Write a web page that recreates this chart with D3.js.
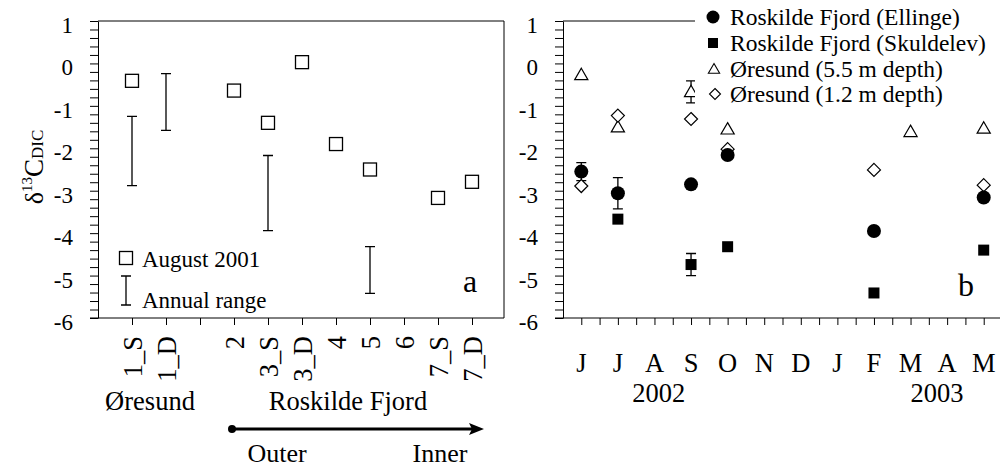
<!DOCTYPE html>
<html><head><meta charset="utf-8">
<script src="https://cdn.jsdelivr.net/npm/d3@7"></script>
<style>
body{margin:0;background:#fff}
svg text{font-family:"Liberation Serif","Times New Roman",serif;fill:#000}
</style>
</head><body>
<svg id="c" width="1000" height="469"></svg>
<script>
// ---- Panel a data ----
const stations = ["1_S","1_D","","2","3_S","3_D","4","5","6","7_S","7_D"];
const aug2001 = [-0.41,null,null,-0.64,-1.40,0.03,-1.90,-2.50,null,-3.17,-2.79];
const rangeLow = [-2.88,-1.58,null,null,-3.94,null,null,-5.42,null,null,null];
const rangeHigh = [-1.25,-0.24,null,null,-2.17,null,null,-4.32,null,null,null];
const groupLabels = ["Øresund","Roskilde Fjord"];
const gradientLabels = ["Outer","Inner"];
const legendA = ["August 2001","Annual range"];
// ---- Panel b data ----
const months = ["J","J","A","S","O","N","D","J","F","M","A","M"];
const yearLabels = ["2002","2003"];
const ellinge    = [-2.55,-3.06,null,-2.85,-2.16,null,null,null,-3.95,null,null,-3.16];
const ellingeErr = [0.21,0.37,0,0,0,0,0,0,0,0,0,0];
const skuldelev    = [null,-3.67,null,-4.74,-4.32,null,null,null,-5.41,null,null,-4.40];
const skuldelevErr = [0,0,0,0.26,0,0,0,0,0,0,0,0];
const oresund55    = [-0.27,-1.50,null,-0.67,-1.55,null,null,null,null,-1.61,null,-1.53];
const oresund55Err = [0,0,0,0.26,0,0,0,0,0,0,0,0];
const oresund12    = [-2.89,-1.23,null,-1.31,-2.02,null,null,null,-2.51,null,null,-2.87];
const legendB = ["Roskilde Fjord (Ellinge)","Roskilde Fjord (Skuldelev)","Øresund (5.5 m depth)","Øresund (1.2 m depth)"];
const yTicks = [1,0,-1,-2,-3,-4,-5,-6];

const svg = d3.select("#c");
const yTop = 21, yBot = 318;
const y = d3.scaleLinear().domain([-6,1]).range([yBot, yTop]);
const minor = d3.range(-6, 1.0001, 0.2).map(v => Math.round(v*10)/10);

function yAxis(g, x0){
  const ax = d3.axisLeft(y).tickValues(minor).tickSize(8).tickSizeOuter(0)
    .tickPadding(17).tickFormat(v => yTicks.includes(v) ? String(v) : "");
  g.attr("transform", `translate(${x0},0)`).call(ax);
  g.selectAll("text").style("font-size","23px").attr("dy","0.5em");
  g.selectAll("line,path").attr("stroke","#000").attr("stroke-width",1);
}

// ===== Panel a =====
const xa0 = 98, xa1 = 504;
const xa = d3.scaleLinear().domain([0, (xa1-xa0)/34]).range([xa0, xa1]);
const ga = svg.append("g");
ga.append("line").attr("x1",xa0).attr("x2",xa1).attr("y1",yTop).attr("y2",yTop).attr("stroke","#000");
ga.append("line").attr("x1",xa1).attr("x2",xa1).attr("y1",yTop).attr("y2",yBot).attr("stroke","#000");
const xaAxis = d3.axisBottom(xa).tickValues(d3.range(1, stations.length+1)).tickSize(7).tickSizeOuter(0)
  .tickFormat(i => stations[i-1]);
const gxa = ga.append("g").attr("transform",`translate(0,${yBot})`).call(xaAxis);
gxa.select(".domain").attr("d", `M${xa0-8},0H${xa1}`);
gxa.selectAll("line,path").attr("stroke","#000");
gxa.selectAll("text").style("font-size","26.5px")
  .attr("transform","rotate(-90)").attr("text-anchor","end")
  .attr("x",-18).attr("y",0).attr("dy","0.36em");
yAxis(ga.append("g"), xa0);

const cap = 5;
stations.forEach((s,i)=>{
  if(rangeLow[i]==null) return;
  const cx = xa(i+1);
  const p = d3.path();
  p.moveTo(cx, y(rangeHigh[i])); p.lineTo(cx, y(rangeLow[i]));
  p.moveTo(cx-cap, y(rangeHigh[i])); p.lineTo(cx+cap, y(rangeHigh[i]));
  p.moveTo(cx-cap, y(rangeLow[i])); p.lineTo(cx+cap, y(rangeLow[i]));
  ga.append("path").attr("d",p.toString()).attr("stroke","#000").attr("stroke-width",1.3).attr("fill","none");
});
const sq = 13;
ga.selectAll("rect.aug").data(aug2001.map((v,i)=>({v,i})).filter(d=>d.v!=null)).join("rect")
  .attr("x",d=>xa(d.i+1)-sq/2).attr("y",d=>y(d.v)-sq/2).attr("width",sq).attr("height",sq)
  .attr("fill","#fff").attr("stroke","#000").attr("stroke-width",1.3);

ga.append("rect").attr("x",126-6.5).attr("y",258-6.5).attr("width",13).attr("height",13)
  .attr("fill","#fff").attr("stroke","#000").attr("stroke-width",1.3);
ga.append("path").attr("d",`M126,276V305M121,276H131M121,305H131`).attr("stroke","#000").attr("stroke-width",1.3);
ga.append("text").attr("x",142).attr("y",267).style("font-size","23px").text(legendA[0]);
ga.append("text").attr("x",142).attr("y",308).style("font-size","23px").text(legendA[1]);
ga.append("text").attr("x",470).attr("y",292).attr("text-anchor","middle").style("font-size","32px").text("a");

const yt = svg.append("text").attr("transform","translate(43,167) rotate(-90)").attr("text-anchor","middle");
yt.append("tspan").style("font-size","26px").text("δ");
yt.append("tspan").style("font-size","15px").attr("dy",-11).text("13");
yt.append("tspan").style("font-size","27px").attr("dy",11).text("C");
yt.append("tspan").style("font-size","17px").text("DIC");

svg.append("text").attr("x",150).attr("y",410).attr("text-anchor","middle").style("font-size","26.5px").text(groupLabels[0]);
svg.append("text").attr("x",348).attr("y",410).attr("text-anchor","middle").style("font-size","26.5px").text(groupLabels[1]);
svg.append("text").attr("x",277).attr("y",462).attr("text-anchor","middle").style("font-size","26px").text(gradientLabels[0]);
svg.append("text").attr("x",440).attr("y",462).attr("text-anchor","middle").style("font-size","26px").text(gradientLabels[1]);
svg.append("line").attr("x1",232).attr("x2",472).attr("y1",429).attr("y2",429).attr("stroke","#000").attr("stroke-width",3);
svg.append("circle").attr("cx",232).attr("cy",429).attr("r",4).attr("fill","#000");
svg.append("path").attr("d","M484,429L469,423L472,429L469,435Z").attr("fill","#000");

// ===== Panel b =====
const xb0 = 563;
const xb = d3.scaleLinear().domain([-0.5, 11.5]).range([xb0, 1002]);
const gb = svg.append("g");
gb.append("line").attr("x1",xb0).attr("x2",1000).attr("y1",yTop).attr("y2",yTop).attr("stroke","#000");
const xbAxis = d3.axisBottom(xb).tickValues(d3.range(0, 11.01, 0.5)).tickSize(7).tickSizeOuter(0).tickFormat("");
const gxb = gb.append("g").attr("transform",`translate(0,${yBot})`).call(xbAxis);
gxb.select(".domain").attr("d", `M${xb0-8},0H1000`);
gxb.selectAll("line,path").attr("stroke","#000");
yAxis(gb.append("g"), xb0);
gb.selectAll("text.month").data(months).join("text").attr("class","month")
  .attr("x",(d,i)=>xb(i)).attr("y",372).attr("text-anchor","middle").style("font-size","26.5px").text(d=>d);
gb.append("text").attr("x",xb(2.12)).attr("y",402).attr("text-anchor","middle").style("font-size","26.5px").text(yearLabels[0]);
gb.append("text").attr("x",xb(9.72)).attr("y",402).attr("text-anchor","middle").style("font-size","26.5px").text(yearLabels[1]);

function errBars(vals, errs){
  vals.forEach((v,i)=>{
    if(v==null || !errs[i]) return;
    const cx = xb(i), a = y(v+errs[i]), b = y(v-errs[i]);
    gb.append("path").attr("d",`M${cx},${a}V${b}M${cx-cap},${a}H${cx+cap}M${cx-cap},${b}H${cx+cap}`)
      .attr("stroke","#000").attr("stroke-width",1.3).attr("fill","none");
  });
}
const pts = arr => arr.map((v,i)=>({v,i})).filter(d=>d.v!=null);
errBars(oresund55, oresund55Err);
errBars(ellinge, ellingeErr);
errBars(skuldelev, skuldelevErr);
const tri = d3.symbol().type(d3.symbolTriangle).size(75);
const dia = (cx,cy,r)=>`M${cx},${cy-r}L${cx+r},${cy}L${cx},${cy+r}L${cx-r},${cy}Z`;
gb.selectAll("path.tri").data(pts(oresund55)).join("path").attr("class","tri")
  .attr("d",tri).attr("transform",d=>`translate(${xb(d.i)},${y(d.v)+1})`)
  .attr("fill","#fff").attr("stroke","#000").attr("stroke-width",1.2);
gb.selectAll("path.dia").data(pts(oresund12)).join("path").attr("class","dia")
  .attr("d",d=>dia(xb(d.i),y(d.v),6.5))
  .attr("fill","#fff").attr("stroke","#000").attr("stroke-width",1.2);
gb.selectAll("rect.sk").data(pts(skuldelev)).join("rect").attr("class","sk")
  .attr("x",d=>xb(d.i)-5.5).attr("y",d=>y(d.v)-5.5).attr("width",11).attr("height",11).attr("fill","#000");
gb.selectAll("circle.el").data(pts(ellinge)).join("circle").attr("class","el")
  .attr("cx",d=>xb(d.i)).attr("cy",d=>y(d.v)).attr("r",7).attr("fill","#000");
gb.append("text").attr("x",966).attr("y",296).attr("text-anchor","middle").style("font-size","32px").text("b");

gb.append("rect").attr("x",695).attr("y",0).attr("width",305).attr("height",112).attr("fill","#fff");
const lb = [25,51,77,102];
gb.append("circle").attr("cx",713).attr("cy",lb[0]-8).attr("r",6.5).attr("fill","#000");
gb.append("rect").attr("x",713-5).attr("y",lb[1]-8-5).attr("width",10).attr("height",10).attr("fill","#000");
gb.append("path").attr("d",d3.symbol().type(d3.symbolTriangle).size(55)).attr("transform",`translate(714,${lb[2]-7})`)
  .attr("fill","#fff").attr("stroke","#000").attr("stroke-width",1.1);
gb.append("path").attr("d",dia(715,lb[3]-8,5.5)).attr("fill","#fff").attr("stroke","#000").attr("stroke-width",1.1);
legendB.forEach((t,i)=>gb.append("text").attr("x",730).attr("y",lb[i]).style("font-size","23.5px").text(t));
</script>
</body></html>
